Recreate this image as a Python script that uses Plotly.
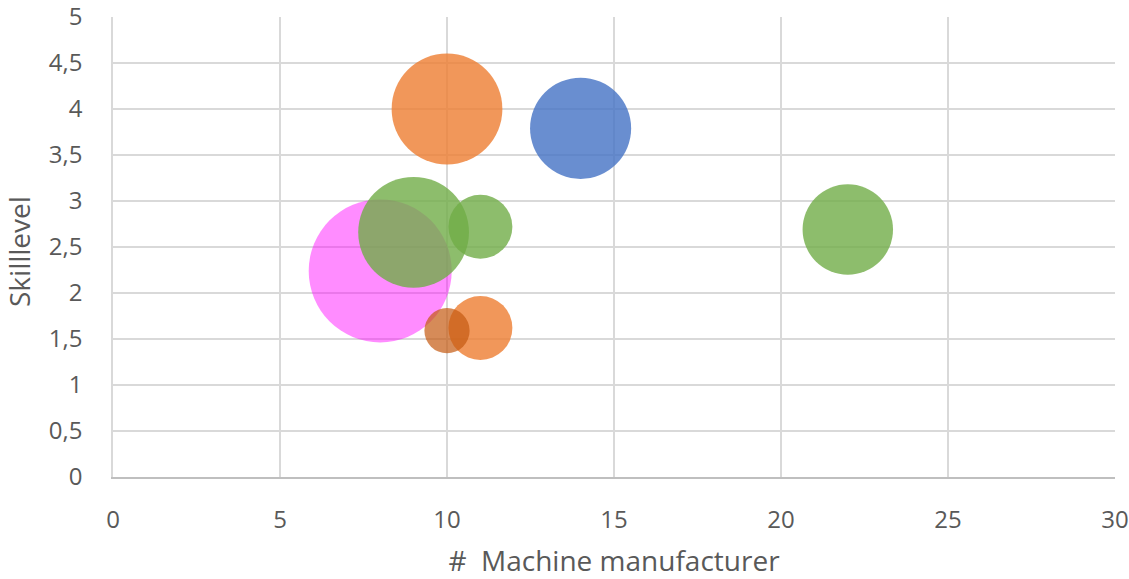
import plotly.graph_objects as go

# Bubble data: machine manufacturer count, skill level, bubble size
pink_x = [8]
pink_y = [2.24]
pink_s = [10]

green_x = [22, 9, 11]
green_y = [2.69, 2.66, 2.72]
green_s = [4, 6, 2]

blue_x = [14]
blue_y = [3.79]
blue_s = [5]

orange_x = [10, 11]
orange_y = [4.0, 1.62]
orange_s = [6, 2]

darkorange_x = [10]
darkorange_y = [1.59]
darkorange_s = [1]

x_ticks = [0, 5, 10, 15, 20, 25, 30]
y_ticks = [0, 0.5, 1, 1.5, 2, 2.5, 3, 3.5, 4, 4.5, 5]

max_diameter = 143
all_sizes = pink_s + green_s + blue_s + orange_s + darkorange_s
sizeref = 2.0 * max(all_sizes) / max_diameter ** 2

series = [
    (pink_x, pink_y, pink_s, "rgba(255,0,255,0.45)"),
    (green_x, green_y, green_s, "rgba(112,173,71,0.8)"),
    (blue_x, blue_y, blue_s, "rgba(68,114,196,0.8)"),
    (orange_x, orange_y, orange_s, "rgba(237,125,49,0.8)"),
    (darkorange_x, darkorange_y, darkorange_s, "rgba(197,90,17,0.7)"),
]

fig = go.Figure()
for xs, ys, ss, col in series:
    fig.add_trace(go.Scatter(
        x=xs, y=ys, mode="markers",
        marker=dict(size=ss, sizemode="area", sizeref=sizeref,
                    color=col, opacity=1, line=dict(width=0)),
        showlegend=False, hoverinfo="x+y",
    ))

tick_font = dict(family="Open Sans, sans-serif", size=24, color="#595959")
title_font = dict(family="Open Sans, sans-serif", size=28, color="#595959")

fig.update_layout(
    width=1129, height=579,
    margin=dict(l=113, r=14, t=17, b=102),
    paper_bgcolor="white", plot_bgcolor="white",
    separators=",.",
    xaxis=dict(
        range=[0, 30], tickvals=x_ticks, showgrid=True,
        gridcolor="#D9D9D9", gridwidth=1.5, zeroline=False,
        showline=True, linecolor="#BFBFBF", linewidth=1.5,
        tickfont=tick_font, ticks="outside", ticklen=20,
        tickcolor="rgba(0,0,0,0)", automargin=False,
        ticklabeloverflow="allow",
        title=dict(text="#\u00a0 Machine manufacturer", font=title_font, standoff=24),
    ),
    yaxis=dict(
        range=[0, 5], tickvals=y_ticks, showgrid=True,
        gridcolor="#D9D9D9", gridwidth=1.5, zeroline=False,
        showline=True, linecolor="#D9D9D9", linewidth=1.5,
        tickfont=tick_font, ticks="outside", ticklen=24,
        tickcolor="rgba(0,0,0,0)", automargin=False,
        ticklabeloverflow="allow",
    ),
    annotations=[dict(
        text="Skilllevel", textangle=-90, font=title_font,
        xref="paper", yref="paper",
        x=(19 - 113) / 1002, y=(477 - 252) / 460,
        xanchor="center", yanchor="middle", showarrow=False,
    )],
)

fig.write_html("out.html")
